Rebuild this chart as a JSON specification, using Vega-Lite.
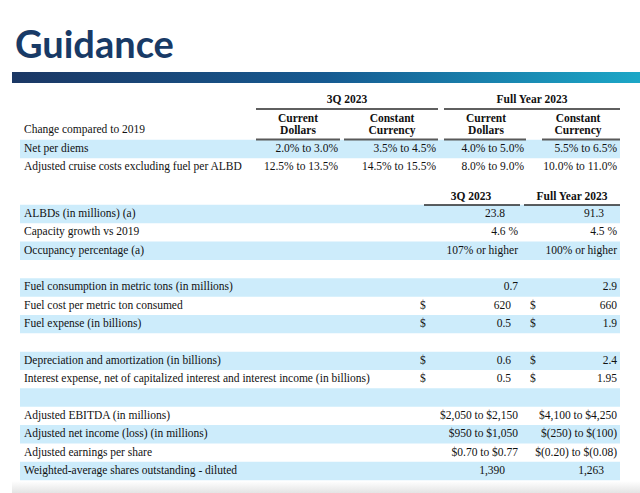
{
  "$schema": "https://vega.github.io/schema/vega-lite/v6.json",
  "width": 640,
  "height": 493,
  "padding": 0,
  "autosize": "none",
  "background": "white",
  "config": {"view": {"stroke": null}},
  "datasets": {
    "bar": [{"r": -2, "c": 0, "c2": 32}],
    "shadow": [{"r": 19, "c": 0, "c2": 32}],
    "bands": [
      {"r": 2, "c": 2, "c2": 31},
      {"r": 5, "c": 2, "c2": 31},
      {"r": 7, "c": 2, "c2": 31},
      {"r": 9, "c": 2, "c2": 31},
      {"r": 11, "c": 2, "c2": 31},
      {"r": 13, "c": 2, "c2": 31},
      {"r": 15, "c": 2, "c2": 31},
      {"r": 17, "c": 2, "c2": 31},
      {"r": 19, "c": 2, "c2": 31}
    ],
    "rules0": [{"r": 0, "c": 4, "c2": 14}, {"r": 0, "c": 15, "c2": 31}],
    "rules1": [{"r": 1, "c": 4, "c2": 7}, {"r": 1, "c": 8, "c2": 14}, {"r": 1, "c": 15, "c2": 23}, {"r": 1, "c": 26, "c2": 31}],
    "rules4": [{"r": 4, "c": 12, "c2": 21}, {"r": 4, "c": 22, "c2": 31}],
    "title": [{"r": -3, "c": 1, "t": "Guidance"}],
    "heads": [
      {"r": 0, "c": 9, "t": "3Q 2023"},
      {"r": 0, "c": 25, "t": "Full Year 2023"},
      {"r": 4, "c": 16, "t": "3Q 2023"},
      {"r": 4, "c": 27, "t": "Full Year 2023"}
    ],
    "heads2": [
      {"r": 1, "c": 5, "t": "Current\nDollars"},
      {"r": 1, "c": 10, "t": "Constant\nCurrency"},
      {"r": 1, "c": 17, "t": "Current\nDollars"},
      {"r": 1, "c": 28, "t": "Constant\nCurrency"}
    ],
    "labels": [
      {"r": 1, "c": 3, "t": "Change compared to 2019"},
      {"r": 2, "c": 3, "t": "Net per diems"},
      {"r": 3, "c": 3, "t": "Adjusted cruise costs excluding fuel per ALBD"},
      {"r": 5, "c": 3, "t": "ALBDs (in millions) (a)"},
      {"r": 6, "c": 3, "t": "Capacity growth vs 2019"},
      {"r": 7, "c": 3, "t": "Occupancy percentage (a)"},
      {"r": 9, "c": 3, "t": "Fuel consumption in metric tons (in millions)"},
      {"r": 10, "c": 3, "t": "Fuel cost per metric ton consumed"},
      {"r": 11, "c": 3, "t": "Fuel expense (in billions)"},
      {"r": 13, "c": 3, "t": "Depreciation and amortization (in billions)"},
      {"r": 14, "c": 3, "t": "Interest expense, net of capitalized interest and interest income (in billions)"},
      {"r": 16, "c": 3, "t": "Adjusted EBITDA (in millions)"},
      {"r": 17, "c": 3, "t": "Adjusted net income (loss) (in millions)"},
      {"r": 18, "c": 3, "t": "Adjusted earnings per share"},
      {"r": 19, "c": 3, "t": "Weighted-average shares outstanding - diluted"}
    ],
    "values": [
      {"r": 2, "c": 6, "t": "2.0% to 3.0%"},
      {"r": 2, "c": 13, "t": "3.5% to 4.5%"},
      {"r": 2, "c": 22, "t": "4.0% to 5.0%"},
      {"r": 2, "c": 30, "t": "5.5% to 6.5%"},
      {"r": 3, "c": 6, "t": "12.5% to 13.5%"},
      {"r": 3, "c": 13, "t": "14.5% to 15.5%"},
      {"r": 3, "c": 22, "t": "8.0% to 9.0%"},
      {"r": 3, "c": 30, "t": "10.0% to 11.0%"},
      {"r": 5, "c": 18, "t": "23.8"},
      {"r": 5, "c": 29, "t": "91.3"},
      {"r": 6, "c": 20, "t": "4.6 %"},
      {"r": 6, "c": 30, "t": "4.5 %"},
      {"r": 7, "c": 20, "t": "107% or higher"},
      {"r": 7, "c": 30, "t": "100% or higher"},
      {"r": 9, "c": 20, "t": "0.7"},
      {"r": 9, "c": 30, "t": "2.9"},
      {"r": 10, "c": 19, "t": "620"},
      {"r": 10, "c": 30, "t": "660"},
      {"r": 11, "c": 19, "t": "0.5"},
      {"r": 11, "c": 30, "t": "1.9"},
      {"r": 13, "c": 19, "t": "0.6"},
      {"r": 13, "c": 30, "t": "2.4"},
      {"r": 14, "c": 19, "t": "0.5"},
      {"r": 14, "c": 30, "t": "1.95"},
      {"r": 16, "c": 20, "t": "$2,050 to $2,150"},
      {"r": 16, "c": 30, "t": "$4,100 to $4,250"},
      {"r": 17, "c": 20, "t": "$950 to $1,050"},
      {"r": 17, "c": 30, "t": "$(250) to $(100)"},
      {"r": 18, "c": 20, "t": "$0.70 to $0.77"},
      {"r": 18, "c": 30, "t": "$(0.20) to $(0.08)"},
      {"r": 19, "c": 18, "t": "1,390"},
      {"r": 19, "c": 29, "t": "1,263"}
    ],
    "dollars": [
      {"r": 10, "c": 11, "t": "$"}, {"r": 10, "c": 24, "t": "$"},
      {"r": 11, "c": 11, "t": "$"}, {"r": 11, "c": 24, "t": "$"},
      {"r": 13, "c": 11, "t": "$"}, {"r": 13, "c": 24, "t": "$"},
      {"r": 14, "c": 11, "t": "$"}, {"r": 14, "c": 24, "t": "$"}
    ]
  },
  "encoding": {
    "x": {
      "field": "c", "type": "quantitative", "axis": null,
      "scale": {
        "domain": [0,1,2,3,4,5,6,7,8,9,10,11,12,13,14,15,16,17,18,19,20,21,22,23,24,25,26,27,28,29,30,31,32],
        "range": [12,15,20,24,256,298,338,340,344,347,392,420,424,436,438,444,471,486,505,511,518,520,524,526,530,532,542,572,578,604,617,620,640],
        "nice": false, "zero": false
      }
    },
    "y": {
      "field": "r", "type": "quantitative", "axis": null,
      "scale": {
        "domain": [-3,-2,0,1,2,3,4,5,19],
        "range": [58,77.5,100,130,149,167,197,214,471],
        "nice": false, "zero": false
      }
    }
  },
  "layer": [
    {
      "data": {"name": "shadow"},
      "mark": {"type": "rect", "yOffset": 10, "y2Offset": 22,
        "color": {"gradient": "linear", "x1": 0, "y1": 0, "x2": 0, "y2": 1,
          "stops": [{"offset": 0, "color": "#ffffff"}, {"offset": 1, "color": "#e4e4e4"}]}},
      "encoding": {"x2": {"field": "c2"}, "y2": {"field": "r"}}
    },
    {
      "data": {"name": "bar"},
      "mark": {"type": "rect", "yOffset": -5.5, "y2Offset": 5.5,
        "color": {"gradient": "linear", "x1": 0, "y1": 0, "x2": 1, "y2": 0,
          "stops": [{"offset": 0, "color": "#1b3764"}, {"offset": 0.5, "color": "#165a91"}, {"offset": 1, "color": "#1ca7c7"}]}},
      "encoding": {"x2": {"field": "c2"}, "y2": {"field": "r"}}
    },
    {
      "data": {"name": "bands"},
      "mark": {"type": "rect", "yOffset": -9.2, "y2Offset": 9.2, "color": "#cdecfb"},
      "encoding": {"x2": {"field": "c2"}, "y2": {"field": "r"}}
    },
    {
      "data": {"name": "rules0"},
      "mark": {"type": "rule", "yOffset": 9, "color": "#2a2a2a", "strokeWidth": 1.6},
      "encoding": {"x2": {"field": "c2"}}
    },
    {
      "data": {"name": "rules1"},
      "mark": {"type": "rule", "yOffset": 9.5, "color": "#595959", "strokeWidth": 2},
      "encoding": {"x2": {"field": "c2"}}
    },
    {
      "data": {"name": "rules4"},
      "mark": {"type": "rule", "yOffset": 8, "color": "#2a2a2a", "strokeWidth": 1.6},
      "encoding": {"x2": {"field": "c2"}}
    },
    {
      "data": {"name": "title"},
      "mark": {"type": "text", "font": "Lato", "fontWeight": "bold", "fontSize": 38, "color": "#183a66", "align": "left", "baseline": "alphabetic"},
      "encoding": {"text": {"field": "t"}}
    },
    {
      "data": {"name": "heads"},
      "mark": {"type": "text", "font": "Liberation Serif", "fontWeight": "bold", "fontSize": 11.5, "color": "#111111", "align": "center", "baseline": "middle"},
      "encoding": {"text": {"field": "t"}}
    },
    {
      "data": {"name": "heads2"},
      "mark": {"type": "text", "font": "Liberation Serif", "fontWeight": "bold", "fontSize": 11.5, "color": "#111111", "align": "center", "baseline": "middle", "lineBreak": "\n", "lineHeight": 12, "dy": -11.5},
      "encoding": {"text": {"field": "t"}}
    },
    {
      "data": {"name": "labels"},
      "mark": {"type": "text", "font": "Liberation Serif", "fontSize": 11.5, "color": "#111111", "align": "left", "baseline": "middle"},
      "encoding": {"text": {"field": "t"}}
    },
    {
      "data": {"name": "values"},
      "mark": {"type": "text", "font": "Liberation Serif", "fontSize": 11.5, "color": "#111111", "align": "right", "baseline": "middle"},
      "encoding": {"text": {"field": "t"}}
    },
    {
      "data": {"name": "dollars"},
      "mark": {"type": "text", "font": "Liberation Serif", "fontSize": 11.5, "color": "#111111", "align": "left", "baseline": "middle"},
      "encoding": {"text": {"field": "t"}}
    }
  ]
}
